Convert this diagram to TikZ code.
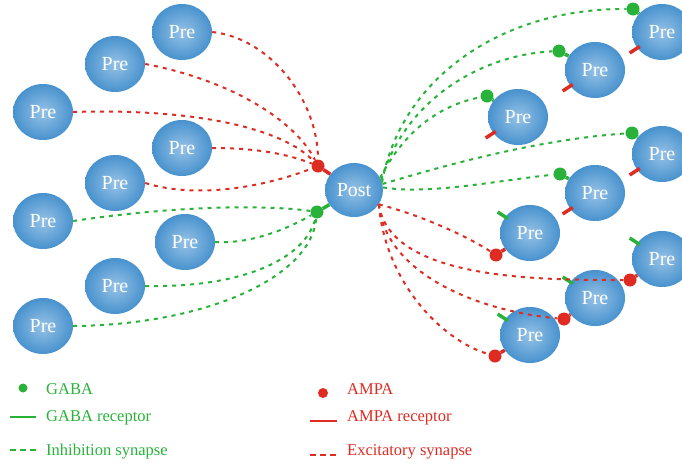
\documentclass[tikz,border=0pt]{standalone}
\usepackage{fontspec}
\setmainfont{Liberation Serif}
\usetikzlibrary{shapes.geometric,calc}
\definecolor{gabagreen}{RGB}{40,178,58}
\definecolor{ampared}{RGB}{222,44,34}
\definecolor{cellin}{RGB}{150,194,230}
\definecolor{cellout}{RGB}{72,146,206}

\begin{document}
\begin{tikzpicture}[x=1pt,y=-1pt,
    cell/.style={ellipse,minimum width=60pt,minimum height=56pt,inner sep=0pt,
      inner color=cellin,outer color=cellout,text=white,font=\fontsize{20}{20}\selectfont},
    gaba/.style={circle,fill=gabagreen,minimum size=13pt,inner sep=0pt},
    ampa/.style={circle,fill=ampared,minimum size=13pt,inner sep=0pt},
    inhib/.style={gabagreen,line width=2pt,dash pattern=on 4pt off 5pt},
    excit/.style={ampared,line width=2pt,dash pattern=on 4pt off 5pt},
    gabastem/.style={gabagreen,line width=3.5pt},
    ampastem/.style={ampared,line width=3.5pt},
    legend/.style={anchor=base west,inner sep=0pt,font=\fontsize{16.5}{16.5}\selectfont}]
  \useasboundingbox (0,0) rectangle (682,464);

  % presynaptic cells, left
  \node[cell] (pa) at (182,32) {Pre};
  \node[cell] (pb) at (115,64) {Pre};
  \node[cell] (pc) at (43,112) {Pre};
  \node[cell] (pd) at (182,148) {Pre};
  \node[cell] (pe) at (115,183) {Pre};
  \node[cell] (pf) at (43,221) {Pre};
  \node[cell] (pg) at (185,242) {Pre};
  \node[cell] (ph) at (115,286) {Pre};
  \node[cell] (pi) at (43,326) {Pre};

  % postsynaptic cell
  \node[cell,minimum width=58pt,minimum height=54pt] (post) at (354,190) {Post};
  \node[ampa] (ampapost) at (318,166) {};
  \node[gaba] (gabapost) at (317,212) {};
  \draw[ampastem] (ampapost) -- (post);
  \draw[gabastem] (gabapost) -- (post);

  % presynaptic cells, right
  \node[cell] (r1) at (662,32) {Pre};
  \node[cell] (r2) at (595,70) {Pre};
  \node[cell] (r3) at (518,117) {Pre};
  \node[cell] (r4) at (662,154) {Pre};
  \node[cell] (r5) at (595,193) {Pre};
  \node[cell] (r6) at (530,233) {Pre};
  \node[cell] (r7) at (662,259) {Pre};
  \node[cell] (r8) at (595,298) {Pre};
  \node[cell] (r9) at (530,335) {Pre};

  \node[gaba] (g1) at (633,9) {};
  \node[gaba] (g2) at (559,51) {};
  \node[gaba] (g3) at (487,96) {};
  \node[gaba] (g4) at (632,133) {};
  \node[gaba] (g5) at (560,174) {};
  \node[ampa] (a6) at (496,255) {};
  \node[ampa] (a7) at (630,280) {};
  \node[ampa] (a8) at (564,319) {};
  \node[ampa] (a9) at (495,356) {};

  \foreach \n/\m in {g1/r1,g2/r2,g3/r3,g4/r4,g5/r5}
    \draw[gabastem] (\n) -- (\m);
  \foreach \n/\m in {a6/r6,a7/r7,a8/r8,a9/r9}
    \draw[ampastem] (\n) -- (\m);
  % receptors
  \foreach \n in {r1,r2,r3,r4,r5}
    \draw[ampastem] ($(\n.213)!-9pt!(\n)$) -- ($(\n.213)!3pt!(\n)$);
  \foreach \n in {r6,r7,r8,r9}
    \draw[gabastem] ($(\n.147)!-9pt!(\n)$) -- ($(\n.147)!3pt!(\n)$);

  % synapses, left
  \draw[excit] (pa.east) .. controls (270,38) and (318,100) .. (ampapost);
  \draw[excit] (pb.east) .. controls (230,80) and (295,120) .. (ampapost);
  \draw[excit] (pc.east) .. controls (200,108) and (285,130) .. (ampapost);
  \draw[excit] (pd.east) .. controls (260,148) and (290,155) .. (ampapost);
  \draw[excit] (pe.east) .. controls (200,200) and (270,185) .. (ampapost);
  \draw[inhib] (pf.east) .. controls (180,205) and (270,205) .. (gabapost);
  \draw[inhib] (pg.east) .. controls (250,244) and (285,230) .. (gabapost);
  \draw[inhib] (ph.east) .. controls (240,288) and (305,260) .. (gabapost);
  \draw[inhib] (pi.east) .. controls (200,325) and (310,280) .. (gabapost);

  % synapses, right
  \draw[inhib] (post.15) .. controls (400,80) and (500,8) .. (g1);
  \draw[inhib] (post.20) .. controls (405,100) and (480,55) .. (g2);
  \draw[inhib] (post.25) .. controls (405,130) and (440,105) .. (g3);
  \draw[inhib] (post.12) .. controls (430,170) and (530,140) .. (g4);
  \draw[inhib] (post.5) .. controls (430,195) and (500,180) .. (g5);
  \draw[excit] (post.-30) .. controls (420,215) and (465,235) .. (a6);
  \draw[excit] (post.-30) .. controls (390,280) and (540,280) .. (a7);
  \draw[excit] (post.-30) .. controls (385,270) and (470,310) .. (a8);
  \draw[excit] (post.-30) .. controls (385,280) and (440,340) .. (a9);

  % legend
  \node[gaba,minimum size=9pt] (gabakey) at (23,388) {};
  \node[legend,text=gabagreen] (gabatxt) at (46,394) {GABA};
  \coordinate (grs) at (10,417); \coordinate (gre) at (36,417);
  \draw[gabagreen,line width=1.5pt] (grs) -- (gre);
  \node[legend,text=gabagreen] (gabarectxt) at (46,421.5) {GABA receptor};
  \coordinate (gss) at (10,450); \coordinate (gse) at (36,450);
  \draw[gabagreen,line width=1.5pt,dash pattern=on 6pt off 4pt] (gss) -- (gse);
  \node[legend,text=gabagreen] (inhibtxt) at (46,455) {Inhibition synapse};

  \node[ampa,minimum size=10pt] (ampakey) at (323,393) {};
  \node[legend,text=ampared] (ampatxt) at (347,394) {AMPA};
  \coordinate (ars) at (310,421); \coordinate (are) at (337,421);
  \draw[ampared,line width=1.5pt] (ars) -- (are);
  \node[legend,text=ampared] (amparectxt) at (347,421.5) {AMPA receptor};
  \coordinate (ass) at (310,455); \coordinate (ase) at (337,455);
  \draw[ampared,line width=1.5pt,dash pattern=on 6pt off 4pt] (ass) -- (ase);
  \node[legend,text=ampared] (excittxt) at (347,455.5) {Excitatory synapse};
\end{tikzpicture}
\end{document}
